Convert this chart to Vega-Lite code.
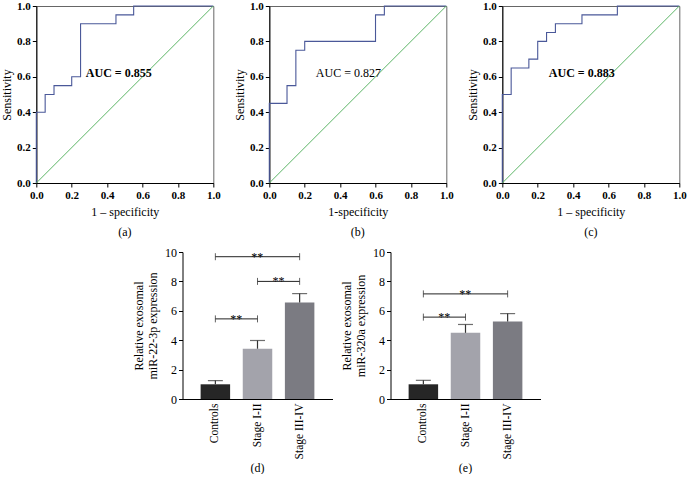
{
  "$schema": "https://vega.github.io/schema/vega-lite/v6.json",
  "background": "white",
  "padding": {"left": 0, "top": -1, "right": 0, "bottom": 0},
  "config": {
    "font": "Liberation Serif",
    "view": {"stroke": null},
    "axis": {"domainColor": "#000", "tickColor": "#000", "labelColor": "#000", "titleColor": "#000", "grid": false, "labelFont": "Liberation Serif", "titleFont": "Liberation Serif", "titleFontWeight": "normal", "titleFontSize": 12, "labelFontSize": 11, "tickSize": 4, "labelPadding": 2, "labelOverlap": false, "labelBound": false, "labelFlush": false},
    "title": {"font": "Liberation Serif", "fontSize": 12, "fontWeight": "normal", "orient": "bottom", "offset": 10, "color": "#000"},
    "text": {"font": "Liberation Serif", "color": "#000"}
  },
  "datasets": {
    "roc": [
      {"panel": "a", "i": 0, "fpr": 0, "tpr": 0}, {"panel": "a", "i": 1, "fpr": 0, "tpr": 0.4}, {"panel": "a", "i": 2, "fpr": 0.05, "tpr": 0.4}, {"panel": "a", "i": 3, "fpr": 0.05, "tpr": 0.5}, {"panel": "a", "i": 4, "fpr": 0.1, "tpr": 0.5}, {"panel": "a", "i": 5, "fpr": 0.1, "tpr": 0.55}, {"panel": "a", "i": 6, "fpr": 0.2, "tpr": 0.55}, {"panel": "a", "i": 7, "fpr": 0.2, "tpr": 0.6}, {"panel": "a", "i": 8, "fpr": 0.25, "tpr": 0.6}, {"panel": "a", "i": 9, "fpr": 0.25, "tpr": 0.9}, {"panel": "a", "i": 10, "fpr": 0.45, "tpr": 0.9}, {"panel": "a", "i": 11, "fpr": 0.45, "tpr": 0.95}, {"panel": "a", "i": 12, "fpr": 0.55, "tpr": 0.95}, {"panel": "a", "i": 13, "fpr": 0.55, "tpr": 1}, {"panel": "a", "i": 14, "fpr": 1, "tpr": 1},
      {"panel": "b", "i": 0, "fpr": 0, "tpr": 0}, {"panel": "b", "i": 1, "fpr": 0, "tpr": 0.45}, {"panel": "b", "i": 2, "fpr": 0.1, "tpr": 0.45}, {"panel": "b", "i": 3, "fpr": 0.1, "tpr": 0.55}, {"panel": "b", "i": 4, "fpr": 0.15, "tpr": 0.55}, {"panel": "b", "i": 5, "fpr": 0.15, "tpr": 0.75}, {"panel": "b", "i": 6, "fpr": 0.2, "tpr": 0.75}, {"panel": "b", "i": 7, "fpr": 0.2, "tpr": 0.8}, {"panel": "b", "i": 8, "fpr": 0.6, "tpr": 0.8}, {"panel": "b", "i": 9, "fpr": 0.6, "tpr": 0.95}, {"panel": "b", "i": 10, "fpr": 0.65, "tpr": 0.95}, {"panel": "b", "i": 11, "fpr": 0.65, "tpr": 1}, {"panel": "b", "i": 12, "fpr": 1, "tpr": 1},
      {"panel": "c", "i": 0, "fpr": 0, "tpr": 0}, {"panel": "c", "i": 1, "fpr": 0, "tpr": 0.5}, {"panel": "c", "i": 2, "fpr": 0.05, "tpr": 0.5}, {"panel": "c", "i": 3, "fpr": 0.05, "tpr": 0.65}, {"panel": "c", "i": 4, "fpr": 0.15, "tpr": 0.65}, {"panel": "c", "i": 5, "fpr": 0.15, "tpr": 0.7}, {"panel": "c", "i": 6, "fpr": 0.2, "tpr": 0.7}, {"panel": "c", "i": 7, "fpr": 0.2, "tpr": 0.8}, {"panel": "c", "i": 8, "fpr": 0.25, "tpr": 0.8}, {"panel": "c", "i": 9, "fpr": 0.25, "tpr": 0.85}, {"panel": "c", "i": 10, "fpr": 0.3, "tpr": 0.85}, {"panel": "c", "i": 11, "fpr": 0.3, "tpr": 0.9}, {"panel": "c", "i": 12, "fpr": 0.45, "tpr": 0.9}, {"panel": "c", "i": 13, "fpr": 0.45, "tpr": 0.95}, {"panel": "c", "i": 14, "fpr": 0.65, "tpr": 0.95}, {"panel": "c", "i": 15, "fpr": 0.65, "tpr": 1}, {"panel": "c", "i": 16, "fpr": 1, "tpr": 1}
    ],
    "auc": [
      {"panel": "a", "x": 0.28, "y": 0.62, "label": "AUC = 0.855"},
      {"panel": "b", "x": 0.263, "y": 0.62, "label": "AUC = 0.827"},
      {"panel": "c", "x": 0.263, "y": 0.62, "label": "AUC = 0.883"}
    ],
    "bars": [
      {"panel": "d", "cat": "Controls", "mean": 1.0, "hi": 1.25},
      {"panel": "d", "cat": "Stage I-II", "mean": 3.42, "hi": 3.98},
      {"panel": "d", "cat": "Stage III-IV", "mean": 6.56, "hi": 7.17},
      {"panel": "e", "cat": "Controls", "mean": 1.0, "hi": 1.27},
      {"panel": "e", "cat": "Stage I-II", "mean": 4.5, "hi": 5.07},
      {"panel": "e", "cat": "Stage III-IV", "mean": 5.27, "hi": 5.81}
    ],
    "brackets": [
      {"panel": "d", "from": "Controls", "to": "Stage III-IV", "y": 9.68, "span": 2, "label": "**"},
      {"panel": "d", "from": "Stage I-II", "to": "Stage III-IV", "y": 8.0, "span": 1, "label": "**"},
      {"panel": "d", "from": "Controls", "to": "Stage I-II", "y": 5.45, "span": 1, "label": "**"},
      {"panel": "e", "from": "Controls", "to": "Stage III-IV", "y": 7.15, "span": 2, "label": "**"},
      {"panel": "e", "from": "Controls", "to": "Stage I-II", "y": 5.57, "span": 1, "label": "**"}
    ]
  },
  "center": true,
  "spacing": 7,
  "vconcat": [
    {
      "spacing": 11,
      "hconcat": [
        {
          "width": 177, "height": 177,
          "view": {"stroke": "#666"},
          "title": {"text": "(a)"},
          "layer": [
            {"data": {"name": "roc"}, "transform": [{"filter": "datum.panel === 'a'"}],
             "mark": {"type": "line", "color": "#4a5899", "strokeWidth": 1.1},
             "encoding": {
               "x": {"field": "fpr", "type": "quantitative", "scale": {"domain": [0, 1]}, "axis": {"title": "1 – specificity", "values": [0, 0.2, 0.4, 0.6, 0.8, 1], "tickCount": 10, "format": ".1f", "labelFontWeight": "bold", "titlePadding": 6}},
               "y": {"field": "tpr", "type": "quantitative", "scale": {"domain": [0, 1]}, "axis": {"title": "Sensitivity", "values": [0, 0.2, 0.4, 0.6, 0.8, 1], "tickCount": 10, "format": ".1f", "labelFontWeight": "bold", "titlePadding": 3}},
               "order": {"field": "i"}}},
            {"data": {"values": [{}]}, "mark": {"type": "rule", "color": "#5cb566", "strokeWidth": 1},
             "encoding": {"x": {"datum": 0, "type": "quantitative"}, "y": {"datum": 0, "type": "quantitative"}, "x2": {"datum": 1}, "y2": {"datum": 1}}},
            {"data": {"name": "auc"}, "transform": [{"filter": "datum.panel === 'a'"}],
             "mark": {"type": "text", "align": "left", "baseline": "middle", "fontSize": 12, "fontWeight": "bold", "color": "#000"},
             "encoding": {"x": {"field": "x", "type": "quantitative"}, "y": {"field": "y", "type": "quantitative"}, "text": {"field": "label"}}}
          ]
        },
        {
          "width": 177, "height": 177,
          "view": {"stroke": "#666"},
          "title": {"text": "(b)"},
          "layer": [
            {"data": {"name": "roc"}, "transform": [{"filter": "datum.panel === 'b'"}],
             "mark": {"type": "line", "color": "#4a5899", "strokeWidth": 1.1},
             "encoding": {
               "x": {"field": "fpr", "type": "quantitative", "scale": {"domain": [0, 1]}, "axis": {"title": "1-specificity", "values": [0, 0.2, 0.4, 0.6, 0.8, 1], "tickCount": 10, "format": ".1f", "labelFontWeight": "bold", "titlePadding": 6}},
               "y": {"field": "tpr", "type": "quantitative", "scale": {"domain": [0, 1]}, "axis": {"title": "Sensitivity", "values": [0, 0.2, 0.4, 0.6, 0.8, 1], "tickCount": 10, "format": ".1f", "labelFontWeight": "bold", "titlePadding": 3}},
               "order": {"field": "i"}}},
            {"data": {"values": [{}]}, "mark": {"type": "rule", "color": "#5cb566", "strokeWidth": 1},
             "encoding": {"x": {"datum": 0, "type": "quantitative"}, "y": {"datum": 0, "type": "quantitative"}, "x2": {"datum": 1}, "y2": {"datum": 1}}},
            {"data": {"name": "auc"}, "transform": [{"filter": "datum.panel === 'b'"}],
             "mark": {"type": "text", "align": "left", "baseline": "middle", "fontSize": 12, "color": "#000"},
             "encoding": {"x": {"field": "x", "type": "quantitative"}, "y": {"field": "y", "type": "quantitative"}, "text": {"field": "label"}}}
          ]
        },
        {
          "width": 177, "height": 177,
          "view": {"stroke": "#666"},
          "title": {"text": "(c)"},
          "layer": [
            {"data": {"name": "roc"}, "transform": [{"filter": "datum.panel === 'c'"}],
             "mark": {"type": "line", "color": "#4a5899", "strokeWidth": 1.1},
             "encoding": {
               "x": {"field": "fpr", "type": "quantitative", "scale": {"domain": [0, 1]}, "axis": {"title": "1 – specificity", "values": [0, 0.2, 0.4, 0.6, 0.8, 1], "tickCount": 10, "format": ".1f", "labelFontWeight": "bold", "titlePadding": 6}},
               "y": {"field": "tpr", "type": "quantitative", "scale": {"domain": [0, 1]}, "axis": {"title": "Sensitivity", "values": [0, 0.2, 0.4, 0.6, 0.8, 1], "tickCount": 10, "format": ".1f", "labelFontWeight": "bold", "titlePadding": 3}},
               "order": {"field": "i"}}},
            {"data": {"values": [{}]}, "mark": {"type": "rule", "color": "#5cb566", "strokeWidth": 1},
             "encoding": {"x": {"datum": 0, "type": "quantitative"}, "y": {"datum": 0, "type": "quantitative"}, "x2": {"datum": 1}, "y2": {"datum": 1}}},
            {"data": {"name": "auc"}, "transform": [{"filter": "datum.panel === 'c'"}],
             "mark": {"type": "text", "align": "left", "baseline": "middle", "fontSize": 12, "fontWeight": "bold", "color": "#000"},
             "encoding": {"x": {"field": "x", "type": "quantitative"}, "y": {"field": "y", "type": "quantitative"}, "text": {"field": "label"}}}
          ]
        }
      ]
    },
    {
      "spacing": 8,
      "hconcat": [
        {
          "width": 150, "height": 147,
          "title": {"text": "(d)", "offset": 4},
          "layer": [
            {"data": {"name": "bars"}, "transform": [{"filter": "datum.panel === 'd'"}],
             "mark": {"type": "bar"},
             "encoding": {
               "x": {"field": "cat", "type": "nominal", "scale": {"domain": ["Controls", "Stage I-II", "Stage III-IV"], "paddingInner": 0.3, "paddingOuter": 0.43}, "axis": {"title": null, "labelAngle": -90, "ticks": false, "labelPadding": 4, "labelFontSize": 11.5}},
               "y": {"field": "mean", "type": "quantitative", "scale": {"domain": [0, 10]}, "axis": {"title": ["Relative exosomal", "miR-22-3p expression"], "values": [0, 2, 4, 6, 8, 10], "tickCount": 10, "labelFontSize": 12, "titlePadding": 5}},
               "color": {"field": "cat", "type": "nominal", "scale": {"domain": ["Controls", "Stage I-II", "Stage III-IV"], "range": ["#262626", "#a3a3ab", "#7b7b82"]}, "legend": null}}},
            {"data": {"name": "bars"}, "transform": [{"filter": "datum.panel === 'd'"}],
             "mark": {"type": "rule", "color": "#333", "strokeWidth": 1.2},
             "encoding": {"x": {"field": "cat", "type": "nominal"}, "y": {"field": "mean", "type": "quantitative"}, "y2": {"field": "hi"}}},
            {"data": {"name": "bars"}, "transform": [{"filter": "datum.panel === 'd'"}],
             "mark": {"type": "point", "shape": "stroke", "size": 225, "color": "#333", "strokeWidth": 1.2, "filled": false},
             "encoding": {"x": {"field": "cat", "type": "nominal"}, "y": {"field": "hi", "type": "quantitative"}}},
            {"data": {"name": "brackets"}, "transform": [{"filter": "datum.panel === 'd'"}],
             "mark": {"type": "rule", "color": "#222", "strokeWidth": 1},
             "encoding": {"x": {"field": "from", "type": "nominal", "bandPosition": 0.5}, "x2": {"field": "to", "bandPosition": 0.5}, "y": {"field": "y", "type": "quantitative"}}},
            {"data": {"name": "brackets"}, "transform": [{"filter": "datum.panel === 'd'"}, {"fold": ["from", "to"], "as": ["end", "endcat"]}],
             "mark": {"type": "point", "shape": "M0,-1L0,1", "size": 49, "color": "#222", "strokeWidth": 1, "filled": false},
             "encoding": {"x": {"field": "endcat", "type": "nominal"}, "y": {"field": "y", "type": "quantitative"}}},
            {"data": {"name": "brackets"}, "transform": [{"filter": "datum.panel === 'd' && datum.span === 1"}],
             "mark": {"type": "text", "fontSize": 12, "baseline": "alphabetic", "dy": 4, "dx": 21, "align": "center", "color": "#000"},
             "encoding": {"x": {"field": "from", "type": "nominal"}, "y": {"field": "y", "type": "quantitative"}, "text": {"field": "label"}}},
            {"data": {"name": "brackets"}, "transform": [{"filter": "datum.panel === 'd' && datum.span === 2"}],
             "mark": {"type": "text", "fontSize": 12, "baseline": "alphabetic", "dy": 4, "dx": 42, "align": "center", "color": "#000"},
             "encoding": {"x": {"field": "from", "type": "nominal"}, "y": {"field": "y", "type": "quantitative"}, "text": {"field": "label"}}}
          ]
        },
        {
          "width": 150, "height": 147,
          "title": {"text": "(e)", "offset": 4},
          "layer": [
            {"data": {"name": "bars"}, "transform": [{"filter": "datum.panel === 'e'"}],
             "mark": {"type": "bar"},
             "encoding": {
               "x": {"field": "cat", "type": "nominal", "scale": {"domain": ["Controls", "Stage I-II", "Stage III-IV"], "paddingInner": 0.3, "paddingOuter": 0.43}, "axis": {"title": null, "labelAngle": -90, "ticks": false, "labelPadding": 4, "labelFontSize": 11.5}},
               "y": {"field": "mean", "type": "quantitative", "scale": {"domain": [0, 10]}, "axis": {"title": ["Relative exosomal", "miR-320a expression"], "values": [0, 2, 4, 6, 8, 10], "tickCount": 10, "labelFontSize": 12, "titlePadding": 5}},
               "color": {"field": "cat", "type": "nominal", "scale": {"domain": ["Controls", "Stage I-II", "Stage III-IV"], "range": ["#262626", "#a3a3ab", "#7b7b82"]}, "legend": null}}},
            {"data": {"name": "bars"}, "transform": [{"filter": "datum.panel === 'e'"}],
             "mark": {"type": "rule", "color": "#333", "strokeWidth": 1.2},
             "encoding": {"x": {"field": "cat", "type": "nominal"}, "y": {"field": "mean", "type": "quantitative"}, "y2": {"field": "hi"}}},
            {"data": {"name": "bars"}, "transform": [{"filter": "datum.panel === 'e'"}],
             "mark": {"type": "point", "shape": "stroke", "size": 225, "color": "#333", "strokeWidth": 1.2, "filled": false},
             "encoding": {"x": {"field": "cat", "type": "nominal"}, "y": {"field": "hi", "type": "quantitative"}}},
            {"data": {"name": "brackets"}, "transform": [{"filter": "datum.panel === 'e'"}],
             "mark": {"type": "rule", "color": "#222", "strokeWidth": 1},
             "encoding": {"x": {"field": "from", "type": "nominal", "bandPosition": 0.5}, "x2": {"field": "to", "bandPosition": 0.5}, "y": {"field": "y", "type": "quantitative"}}},
            {"data": {"name": "brackets"}, "transform": [{"filter": "datum.panel === 'e'"}, {"fold": ["from", "to"], "as": ["end", "endcat"]}],
             "mark": {"type": "point", "shape": "M0,-1L0,1", "size": 49, "color": "#222", "strokeWidth": 1, "filled": false},
             "encoding": {"x": {"field": "endcat", "type": "nominal"}, "y": {"field": "y", "type": "quantitative"}}},
            {"data": {"name": "brackets"}, "transform": [{"filter": "datum.panel === 'e' && datum.span === 1"}],
             "mark": {"type": "text", "fontSize": 12, "baseline": "alphabetic", "dy": 4, "dx": 21, "align": "center", "color": "#000"},
             "encoding": {"x": {"field": "from", "type": "nominal"}, "y": {"field": "y", "type": "quantitative"}, "text": {"field": "label"}}},
            {"data": {"name": "brackets"}, "transform": [{"filter": "datum.panel === 'e' && datum.span === 2"}],
             "mark": {"type": "text", "fontSize": 12, "baseline": "alphabetic", "dy": 4, "dx": 42, "align": "center", "color": "#000"},
             "encoding": {"x": {"field": "from", "type": "nominal"}, "y": {"field": "y", "type": "quantitative"}, "text": {"field": "label"}}}
          ]
        }
      ]
    }
  ]
}
